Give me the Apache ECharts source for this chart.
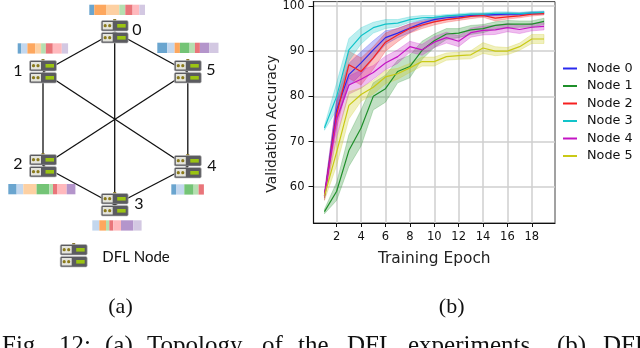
<!DOCTYPE html>
<html>
<head>
<meta charset="utf-8">
<style>
html, body { margin: 0; padding: 0; background: #fff; overflow: hidden; }
#chart { width: 640px; height: 348px; }
</style>
<script src="https://cdn.jsdelivr.net/npm/echarts@6/dist/echarts.min.js"></script>
</head>
<body>
<div id="chart"></div>
<script>
const epochs = [1, 2, 3, 4, 5, 6, 7, 8, 9, 10, 11, 12, 13, 14, 15, 16, 17, 18, 19]
const xTicks = [2, 4, 6, 8, 10, 12, 14, 16, 18]
const yTicks = [60, 70, 80, 90, 100]
const nodeNames = ['Node 0', 'Node 1', 'Node 2', 'Node 3', 'Node 4', 'Node 5']

const node0 = [58, 77, 84.8, 87.4, 90.3, 93, 94, 95.1, 96.2, 97, 97.4, 97.6, 97.9, 98, 98.1, 98.2, 98.2, 98.4, 98.5]
const node1 = [54.5, 59, 68, 73, 80, 81.7, 85.5, 86.6, 90.2, 92.3, 93.8, 94, 94.7, 95, 95.7, 96, 96, 96, 96.6]
const node2 = [58, 76, 87, 85.5, 88.5, 92, 93.6, 95, 95.8, 96.5, 97, 97.3, 97.7, 97.9, 97.3, 97.6, 97.8, 98.2, 98.3]
const node3 = [73, 80, 90.3, 93.4, 95.2, 96, 96.2, 97, 97.4, 97.5, 97.8, 98, 98.2, 98.2, 98.4, 98.4, 98.3, 98.5, 98.6]
const node4 = [58, 75, 82.5, 83.8, 85.3, 87.4, 88.8, 91, 90.3, 92, 93, 92.2, 94.1, 94.6, 94.7, 95.2, 94.8, 95.3, 95.5]
const node5 = [58, 67.7, 78, 80.4, 82, 84.3, 85, 86.3, 87.7, 87.7, 88.8, 89, 89.2, 90.7, 90, 90, 91, 92.7, 92.7]

const spread0 = [0.5, 2.5, 2.5, 2.5, 2, 1.5, 1, 1, 0.7, 0.5, 0.4, 0.4, 0.3, 0.3, 0.3, 0.3, 0.3, 0.3, 0.3]
const spread1 = [0.5, 2, 3.5, 4, 3, 3, 2.5, 2.5, 2, 1.5, 1.2, 1, 1, 0.9, 0.8, 0.8, 0.7, 0.7, 0.7]
const spread2 = [0.5, 3, 3, 3, 2.5, 2, 1.5, 1, 0.8, 0.7, 0.6, 0.5, 0.5, 0.4, 0.6, 0.5, 0.4, 0.4, 0.3]
const spread3 = [0.5, 3, 2.5, 1.8, 1.2, 1, 0.8, 0.6, 0.5, 0.4, 0.3, 0.3, 0.3, 0.3, 0.3, 0.3, 0.3, 0.3, 0.3]
const spread4 = [1, 4, 2, 2, 1.5, 1.5, 1.5, 1.2, 1.2, 1.2, 1.2, 1.2, 1, 1, 1, 0.9, 0.9, 0.8, 0.8]
const spread5 = [1, 3, 3, 1.5, 1.5, 1.5, 1.2, 1, 1, 1, 0.8, 0.8, 0.9, 1.2, 1, 0.8, 0.8, 1, 1]

const means = [node0, node1, node2, node3, node4, node5]
const spreads = [spread0, spread1, spread2, spread3, spread4, spread5]
const lineColors = ['#2a2aee', '#1f8f2a', '#f62020', '#12c4ca', '#c414c4', '#c9c916']

// left panel: topology, laid out in the panel's own units
const topoIds = [0, 1, 2, 3, 4, 5]
const topoX = [114.7, 43, 43, 114.7, 187.8, 187.8]
const topoY = [32, 72, 166, 205, 167, 72]
const topoLabelX = [137, 18, 18, 139, 212, 211]
const topoLabelY = [30, 71, 164, 204, 166, 70]
const topoEdges = [[0, 1], [0, 5], [0, 3], [1, 2], [1, 4], [2, 5], [2, 3], [3, 4], [4, 5]]

// share of the data held per node, one strip per node
const classColors = ['#6aa5cf', '#c3d7ee', '#fda75e', '#fdd0a2', '#74c476', '#b5dfb0', '#e9757a', '#ffb9bd', '#b495cb', '#d3c8e2']
const stripStart = [89.3, 17.7, 8.3, 92.3, 171.3, 157.3]
const stripTop = [4.7, 43.3, 184, 220.3, 184.3, 42.7]
const stripSegs = [
  [[0, 5], [2, 11.7], [3, 13.3], [5, 6], [6, 7.3], [7, 6.7], [9, 5.7]],
  [[0, 3.7], [1, 6], [2, 7.7], [3, 6], [5, 4.7], [6, 7], [7, 9], [9, 6.3]],
  [[0, 8.3], [1, 6.7], [3, 13.3], [4, 12.7], [5, 3.7], [6, 4], [7, 9.7], [8, 8.7]],
  [[1, 7], [2, 6.7], [5, 3.3], [6, 4], [7, 7.7], [8, 12.3], [9, 8.3]],
  [[0, 4.7], [1, 8.3], [4, 9.3], [5, 5], [6, 5.3]],
  [[0, 10], [1, 7.3], [2, 5.3], [4, 9.7], [5, 5.3], [6, 5], [8, 9.3], [9, 9.3]]
]

function renderBand(i) {
  return function (params, api) {
    if (params.dataIndex !== 0) return null
    const upper = epochs.map((e, k) => api.coord([e, means[i][k] + spreads[i][k]]))
    const lower = epochs.map((e, k) => api.coord([e, means[i][k] - spreads[i][k]]))
    return {
      type: 'polygon',
      shape: { points: upper.concat(lower.reverse()) },
      style: {
        fill: echarts.color.modifyAlpha(lineColors[i], 0.28),
        stroke: echarts.color.modifyAlpha(lineColors[i], 0.35),
        lineWidth: 0.7
      }
    }
  }
}

function renderEdge(params, api) {
  const a = api.coord([api.value(0), api.value(1)])
  const b = api.coord([api.value(2), api.value(3)])
  return {
    type: 'line',
    shape: { x1: a[0], y1: a[1], x2: b[0], y2: b[1] },
    style: { stroke: '#111', lineWidth: 1.3 }
  }
}

function renderStrip(params, api) {
  const a = api.coord([api.value(0), api.value(1)])
  const size = api.size([api.value(2), 10.3])
  return {
    type: 'rect',
    shape: { x: a[0], y: a[1], width: size[0], height: size[1] },
    style: { fill: classColors[api.value(3)] }
  }
}

function serverUnit(x, y) {
  return [
    { type: 'rect', shape: { x: x, y: y, width: 27, height: 10.5, r: 1.5 }, style: { fill: '#5b5b60', stroke: '#b9b9b9', lineWidth: 0.6 } },
    { type: 'rect', shape: { x: x + 1.5, y: y + 1.5, width: 10, height: 7.5 }, style: { fill: '#e4e4dc' } },
    { type: 'circle', shape: { cx: x + 4, cy: y + 5.2, r: 1.6 }, style: { fill: '#8a7a1c' } },
    { type: 'circle', shape: { cx: x + 8.5, cy: y + 5.2, r: 1.6 }, style: { fill: '#8a7a1c' } },
    { type: 'rect', shape: { x: x + 16, y: y + 3.5, width: 8.5, height: 3.6 }, style: { fill: '#9bc412' } }
  ]
}

function renderServer(params, api) {
  const c = api.coord([api.value(0), api.value(1)])
  const x = c[0] - 13.5
  const y = c[1] - 11.5
  return {
    type: 'group',
    children: [
      { type: 'rect', shape: { x: x + 12, y: y - 1.5, width: 3, height: 2 }, style: { fill: '#8a7a30' } }
    ].concat(serverUnit(x, y), serverUnit(x, y + 12))
  }
}

const edgeData = topoEdges.map(e => [topoX[e[0]], topoY[e[0]], topoX[e[1]], topoY[e[1]]])
const stripData = []
stripSegs.forEach((segs, i) => {
  let pos = stripStart[i]
  segs.forEach(seg => {
    stripData.push([pos, stripTop[i], seg[1], seg[0]])
    pos += seg[1]
  })
})
const serverData = topoIds.map(i => [topoX[i], topoY[i]])
serverData.push([73.7, 256])

const series = []
means.forEach((mean, i) => {
  const color = lineColors[i]
  series.push({
    type: 'custom',
    renderItem: renderBand(i),
    encode: { x: 0, y: [1, 2] },
    silent: true,
    data: epochs.map((e, k) => [e, mean[k] - spreads[i][k], mean[k] + spreads[i][k]])
  })
  series.push({
    name: nodeNames[i],
    type: 'line',
    symbol: 'none',
    itemStyle: { color: color },
    lineStyle: { color: color, width: 1.2 },
    data: epochs.map((e, k) => [e, mean[k]])
  })
})

series.push(
  { type: 'custom', xAxisIndex: 1, yAxisIndex: 1, renderItem: renderEdge, data: edgeData, clip: false, silent: true },
  { type: 'custom', xAxisIndex: 1, yAxisIndex: 1, renderItem: renderStrip, data: stripData, clip: false, silent: true },
  { type: 'custom', xAxisIndex: 1, yAxisIndex: 1, renderItem: renderServer, data: serverData, clip: false, silent: true }
)

const tickFont = { color: '#111', fontFamily: 'DejaVu Sans', fontSize: 11.5 }
const serif = 'Liberation Serif'
const topoFont = 'Lato'

function label(text, x, y, font, size) {
  return {
    type: 'text', x: x, y: y,
    style: { text: text, fill: '#111', font: size + 'px "' + font + '"', textAlign: 'center', textVerticalAlign: 'middle' }
  }
}

const captionWords = [['Fig.', 2], ['12:', 59], ['(a)', 105], ['Topology', 147], ['of', 262], ['the', 298], ['DFL', 347], ['experiments.', 408], ['(b)', 557], ['DFL', 603]]
const graphics = [
  label('(a)', 120.5, 307, serif, 22),
  label('(b)', 451.7, 307, serif, 22),
  label('DFL Node', 136, 257, topoFont, 15)
]
topoIds.forEach(i => graphics.push(label(String(i), topoLabelX[i], topoLabelY[i], topoFont, 16)))
captionWords.forEach(w => graphics.push({
  type: 'text', x: w[1], y: 359,
  style: { text: w[0], fill: '#111', font: '25px "' + serif + '"', textAlign: 'left', textVerticalAlign: 'bottom' }
}))
graphics.push({
  type: 'text', x: 272, y: 124, rotation: Math.PI / 2,
  style: { text: 'Validation Accuracy', fill: '#222', font: '14px "DejaVu Sans"', textAlign: 'center', textVerticalAlign: 'middle' }
})

let myChart = echarts.init(document.getElementById('chart'), null, { renderer: 'canvas' })
let option = {
  animation: false,
  backgroundColor: '#fff',
  graphic: graphics,
  legend: {
    data: nodeNames,
    orient: 'vertical',
    left: 563,
    top: 62,
    padding: 0,
    icon: 'rect',
    itemWidth: 14,
    itemHeight: 2,
    itemGap: 4.5,
    textStyle: { color: '#111', fontFamily: 'DejaVu Sans', fontSize: 12.8, height: 13, padding: [0, 0, 0, 5] }
  },
  grid: [
    { left: 313.5, top: 1.5, width: 241.5, height: 221.5, show: true, borderColor: '#444', borderWidth: 1, backgroundColor: 'transparent' },
    { left: 0, top: 0, width: 230, height: 280 }
  ],
  xAxis: [
    {
      type: 'value',
      min: 0.1,
      max: 19.9,
      name: 'Training Epoch',
      nameLocation: 'middle',
      nameGap: 28,
      nameTextStyle: { color: '#222', fontFamily: 'DejaVu Sans', fontSize: 15.4 },
      axisLine: { onZero: false, lineStyle: { color: '#111', width: 1.2 } },
      axisTick: { customValues: xTicks, length: 4, lineStyle: { color: '#111' } },
      axisLabel: Object.assign({ customValues: xTicks, margin: 8 }, tickFont),
      splitLine: { show: true, lineStyle: { color: '#cfcfcf', width: 1.5 } }
    },
    { type: 'value', gridIndex: 1, min: 0, max: 230, show: false }
  ],
  yAxis: [
    {
      type: 'value',
      min: 51.97,
      max: 100.97,
      axisLine: { onZero: false, lineStyle: { color: '#111', width: 1.2 } },
      axisTick: { customValues: yTicks, length: 5, lineStyle: { color: '#111' } },
      axisLabel: Object.assign({ customValues: yTicks, margin: 9 }, tickFont),
      splitLine: { show: true, lineStyle: { color: '#cfcfcf', width: 1.5 } }
    },
    { type: 'value', gridIndex: 1, min: 0, max: 280, inverse: true, show: false }
  ],
  series: series
}
myChart.setOption(option)
</script>
</body>
</html>
